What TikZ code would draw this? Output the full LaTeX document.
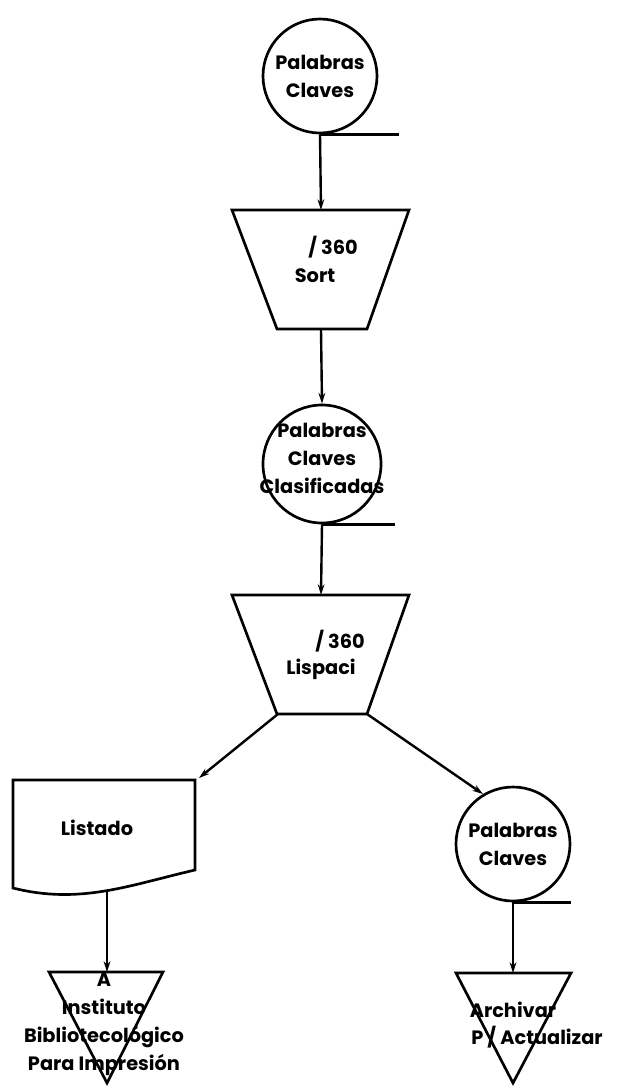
\documentclass[tikz,border=0pt]{standalone}
\usepackage{fontspec}
\setmainfont{Poppins}
\usetikzlibrary{arrows.meta}
\tikzset{
  flow/.style={line width=2pt},
  arr/.style={line width=1.8pt,-{Stealth[length=8pt,width=5pt]}},
  tape/.style={circle,draw,flow,inner sep=0pt},
  txt/.style={inner sep=0pt,align=center,font=\bfseries\fontsize{14.5}{21}\selectfont}
}
\begin{document}
\begin{tikzpicture}[x=0.75pt,y=-0.75pt]
  \useasboundingbox (0,0) rectangle (623,1086);

  % Tapes
  \node[tape,minimum size=85.5pt] (kw1) at (320,76) {};
  \node[txt] (kw1-t) at (kw1) {Palabras\\Claves};
  \node[tape,minimum size=88.5pt] (kw2) at (322,464) {};
  \node[txt] (kw2-t) at (322,458) {Palabras\\Claves\\Clasificadas};
  \node[tape,minimum size=85.5pt] (kw3) at (513,844) {};
  \node[txt] (kw3-t) at (kw3) {Palabras\\Claves};

  % Tape tails
  \foreach \n/\l in {kw1/79, kw2/73, kw3/58}{
      \draw[flow] (\n.south) -- ++(\l,0);
    }

  % Processes
  \foreach \n/\y in {sort/210, lisp/595}{
      \draw[flow] (232,\y) -- (409,\y) -- (367,\y+119) -- (277,\y+119) -- cycle;
      \coordinate (\n-n) at (321,\y);
      \coordinate (\n-s) at (321,\y+119);
      \coordinate (\n-sw) at (278,\y+119);
      \coordinate (\n-se) at (367,\y+119);
    }
  \node[txt] (sort-a) at (333,247) {/ 360};
  \node[txt] (sort-b) at (315,276) {Sort};
  \node[txt] (lisp-a) at (340,641) {/ 360};
  \node[txt] (lisp-b) at (321,669) {Lispaci};

  % Listado
  \draw[flow] (13,780) -- (195,780) -- (195,870)
    .. controls (130,885) and (80,905) .. (13,888) -- cycle;
  \node[txt] (lst) at (97,828) {Listado};
  \coordinate (lst-c) at (199,778);
  \coordinate (lst-b) at (107,892);

  % Output triangles
  \draw[flow] (49,972) -- (163,972) -- (107,1083) -- cycle;
  \draw[flow] (456,973) -- (571,973) -- (513,1083) -- cycle;
  \coordinate (out1) at (107,972);
  \coordinate (out2) at (513,973);
  \node[txt] (out1-t) at (104,1024) {A\\Instituto\\Bibliotecológico\\Para Impresión};
  \node[txt] (out2-a) at (513,1010) {Archivar};
  \node[txt] (out2-b) at (537,1037) {P / Actualizar};

  % Flow
  \draw[arr] (kw1.south) -- (sort-n);
  \draw[arr] (sort-s) -- (kw2.north);
  \draw[arr] (kw2.south) -- (lisp-n);
  \draw[arr] (lisp-sw) -- (lst-c);
  \draw[arr] (lisp-se) -- (kw3.121);
  \draw[arr] (lst-b) -- (out1);
  \draw[arr] (kw3.south) -- (out2);
\end{tikzpicture}
\end{document}
